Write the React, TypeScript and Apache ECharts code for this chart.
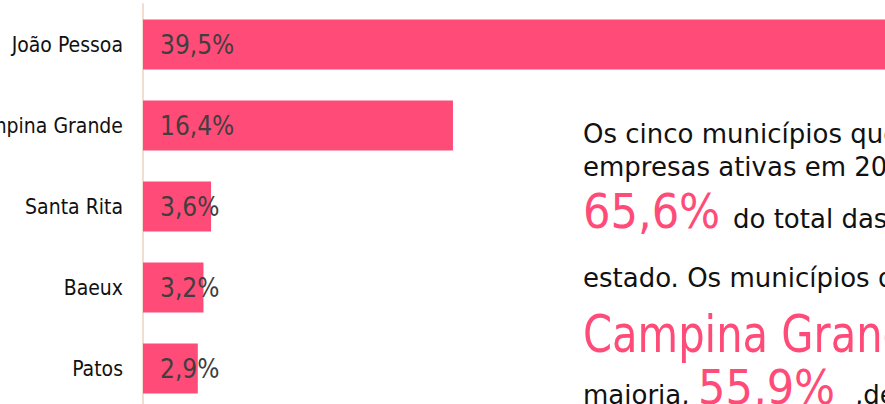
import React, { useEffect, useRef } from "react";
import * as echarts from "echarts";

const categories = ["João Pessoa", "Campina Grande", "Santa Rita", "Baeux", "Patos"];
const shares = [39.5, 16.4, 3.6, 3.2, 2.9];
const shareLabels = ["39,5%", "16,4%", "3,6%", "3,2%", "2,9%"];

const FONT = "'DejaVu Sans Condensed', 'DejaVu Sans', sans-serif";
const BODY_FONT = "'DejaVu Sans', sans-serif";
const PINK = "#ff4b78";

// place text by its baseline (DejaVu metrics: baseline ≈ top + 0.846 * size)
const at = (baseline: number, size: number) => baseline - 0.846 * size;

export default function App() {
  const ref = useRef<HTMLDivElement>(null);
  useEffect(() => {
    if (!ref.current) return;
    const chart = echarts.init(ref.current, null, { renderer: "svg" });
    const BS = 26;
    const body = { fontFamily: BODY_FONT, fill: "#111111", fontSize: BS };
    const big = { fontFamily: FONT, fill: PINK };
    chart.setOption({
      animation: false,
      grid: { left: 143, top: 4, height: 405, width: 756, containLabel: false, outerBoundsMode: "none" },
      xAxis: { type: "value", min: 0, max: 40, show: false },
      yAxis: {
        type: "category",
        data: categories,
        inverse: true,
        axisTick: { show: false },
        axisLine: { lineStyle: { color: "#f3ddd0", width: 2 } },
        axisLabel: { fontFamily: FONT, fontSize: 21, color: "#111111", margin: 20 },
      },
      series: [
        {
          type: "bar",
          data: shares,
          barWidth: 50,
          itemStyle: { color: PINK },
          label: {
            show: true,
            position: "insideLeft",
            distance: 17,
            fontFamily: FONT,
            fontSize: 26,
            color: "#3f3f3f",
            formatter: (p: any) => shareLabels[p.dataIndex],
          },
        },
      ],
      graphic: [
        { type: "text", x: 583, y: at(143, BS), style: { ...body, text: "Os cinco municípios que" } },
        { type: "text", x: 583, y: at(176, BS), style: { ...body, text: "empresas ativas em 202" } },
        { type: "text", x: 583, y: at(228, 48), style: { ...big, fontSize: 48, text: "65,6%" } },
        { type: "text", x: 733, y: at(228, BS), style: { ...body, text: "do total das" } },
        { type: "text", x: 583, y: at(287, BS), style: { ...body, text: "estado. Os municípios de" } },
        { type: "text", x: 583, y: at(352, 52), scaleX: 0.89, style: { ...big, fontSize: 52, text: "Campina Grande" } },
        { type: "text", x: 583, y: at(404, BS), style: { ...body, text: "maioria," } },
        { type: "text", x: 698, y: at(404, 48), style: { ...big, fontSize: 48, text: "55,9%" } },
        { type: "text", x: 855, y: at(404, BS), style: { ...body, text: ",de" } },
      ],
    });
    return () => chart.dispose();
  }, []);
  return (
    <div style={{ position: "absolute", left: 0, top: 0, width: 885, height: 404, overflow: "hidden", background: "#ffffff" }}>
      <div ref={ref} style={{ width: 1100, height: 410 }} />
    </div>
  );
}
